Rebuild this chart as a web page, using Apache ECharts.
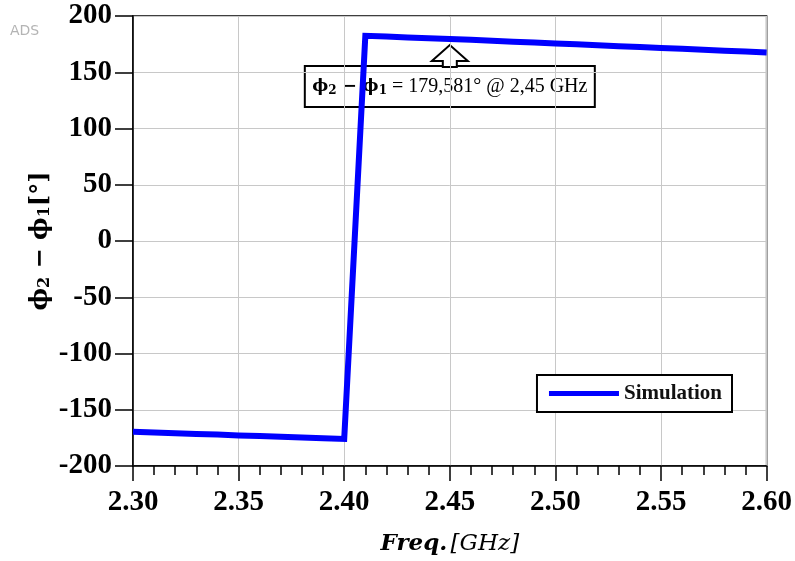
<!DOCTYPE html>
<html>
<head>
<meta charset="utf-8">
<script src="https://cdn.jsdelivr.net/npm/echarts@6/dist/echarts.min.js"></script>
<style>
html,body{margin:0;padding:0;background:#fff;}
#chart{width:795px;height:561px;}
</style>
</head>
<body>
<div id="chart"></div>
<script>
// Data
const freqGHz = [2.30,2.31,2.32,2.33,2.34,2.35,2.36,2.37,2.38,2.39,2.40,
                 2.41,2.42,2.43,2.44,2.45,2.46,2.47,2.48,2.49,2.50,
                 2.51,2.52,2.53,2.54,2.55,2.56,2.57,2.58,2.59,2.60];
const phaseDiff = [-169.5,-170.2,-170.8,-171.5,-172.1,-172.8,-173.4,-174.0,-174.7,-175.3,-176.0,
                   182.4,181.7,180.9,180.2,179.6,178.8,178.0,177.2,176.4,175.6,
                   174.8,174.0,173.2,172.4,171.6,170.8,170.0,169.2,168.4,167.6];
const seriesName = 'Simulation';
const markerFreq = 2.45;
const markerValue = 179.581;
const markerText = ' = 179,581° @ 2,45 GHz';
const xTicks = [2.30,2.35,2.40,2.45,2.50,2.55,2.60];
const yTicks = [-200,-150,-100,-50,0,50,100,150,200];

const serif = "'Liberation Serif','Times New Roman',serif";
const mathFont = "'DejaVu Serif','Liberation Serif',serif";

const chart = echarts.init(document.getElementById('chart'));
const adsLabel = {
  type: 'text', left: 10, top: 24,
  style: { text: 'ADS', fontFamily: "'DejaVu Sans',sans-serif", fontSize: 14, fill: '#b4b4b4' }
};
const option = {
  animation: false,
  backgroundColor: '#fff',
  grid: { left: 133, right: 27, top: 16, bottom: 94, show: true, borderColor: '#000', borderWidth: 1.5, backgroundColor: 'transparent' },
  legend: {
    right: 63, top: 375,
    data: [seriesName],
    icon: 'rect', itemWidth: 70, itemHeight: 5,
    backgroundColor: '#fff', borderColor: '#000', borderWidth: 2,
    padding: [8, 10, 8, 12],
    textStyle: { fontFamily: serif, fontWeight: 'bold', fontSize: 21, color: '#111' }
  },
  xAxis: {
    type: 'value', min: xTicks[0], max: xTicks[xTicks.length-1], interval: 0.05,
    name: '{i|Freq.} {n|[GHz]}', nameLocation: 'middle', nameGap: 67,
    nameTextStyle: { rich: {
      i: { fontFamily: mathFont, fontStyle: 'italic', fontWeight: 'bold', fontSize: 23, color: '#000' },
      n: { fontFamily: mathFont, fontStyle: 'italic', fontSize: 23, color: '#000' } } },
    axisLine: { onZero: false, lineStyle: { color: '#000', width: 1.5 } },
    axisTick: { show: true, inside: false, length: 15, lineStyle: { color: '#000', width: 1.5 } },
    minorTick: { show: true, splitNumber: 5, length: 9, lineStyle: { color: '#000', width: 1.5 } },
    splitLine: { show: true, lineStyle: { color: '#c8c8c8', width: 1 } },
    axisLabel: { margin: 22, fontFamily: serif, fontWeight: 'bold', fontSize: 29, color: '#000',
      formatter: v => v.toFixed(2) }
  },
  yAxis: {
    type: 'value', min: yTicks[0], max: yTicks[yTicks.length-1], interval: 50,
    name: '{p|ϕ}{s|2}{p| − ϕ}{s|1}{p|[°]}', nameLocation: 'middle', nameGap: 80, nameRotate: 90,
    nameMoveOverlap: false,
    nameTextStyle: { rich: {
      p: { fontFamily: mathFont, fontWeight: 'bold', fontSize: 24, color: '#000' },
      s: { fontFamily: mathFont, fontWeight: 'bold', fontSize: 16, color: '#000', verticalAlign: 'bottom', padding: [8,0,0,0] } } },
    axisLine: { show: true, onZero: false, lineStyle: { color: '#000', width: 1.5 } },
    axisTick: { show: true, inside: false, length: 18, lineStyle: { color: '#000', width: 1.5 } },
    splitLine: { show: true, lineStyle: { color: '#c8c8c8', width: 1 } },
    axisLabel: { margin: 21, fontFamily: serif, fontWeight: 'bold', fontSize: 29, color: '#000' }
  },
  series: [{
    name: seriesName, type: 'line',
    data: freqGHz.map((f, i) => [f, phaseDiff[i]]),
    showSymbol: false, symbol: 'none',
    lineStyle: { color: '#0000ff', width: 6, join: 'miter' },
    itemStyle: { color: '#0000ff' },
    z: 3
  }],
  graphic: [adsLabel]
};
chart.setOption(option);

// Annotation anchored to the marker data point
const p = chart.convertToPixel({ gridIndex: 0 }, [markerFreq, markerValue]);
chart.setOption({
  graphic: [adsLabel, {
    type: 'group', x: p[0], y: p[1], z: 100,
    children: [{
      type: 'rect', shape: { x: -145, y: 27, width: 290, height: 41 },
      style: { fill: '#fff', stroke: '#000', lineWidth: 2 }
    }, {
      type: 'polygon',
      shape: { points: [[-7,28],[-7,22],[-18,22],[0,6],[18,22],[7,22],[7,28]] },
      style: { fill: '#fff', stroke: '#000', lineWidth: 2 }
    }, {
      type: 'text', x: 0, y: 47.5,
      style: {
        text: '{p|ϕ}{s|2}{p| − ϕ}{s|1}{t|' + markerText + '}',
        align: 'center', verticalAlign: 'middle',
        rich: {
          p: { fontFamily: mathFont, fontWeight: 'bold', fontSize: 17, fill: '#000' },
          s: { fontFamily: mathFont, fontWeight: 'bold', fontSize: 12, fill: '#000', verticalAlign: 'bottom', padding: [6,0,0,0] },
          t: { fontFamily: serif, fontSize: 20, fill: '#000' }
        }
      }
    }]
  }]
});
</script>
</body>
</html>
